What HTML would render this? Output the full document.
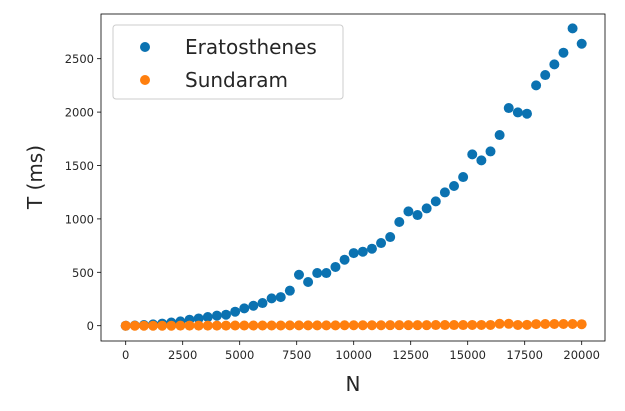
<!DOCTYPE html>
<html><head><meta charset="utf-8"><style>
body{margin:0;background:#fff}
svg{display:block;font-family:"DejaVu Sans","Liberation Sans",sans-serif}
</style></head><body>
<svg id="chart" width="625" height="411" viewBox="0 0 625 411" xmlns="http://www.w3.org/2000/svg">
<rect x="0" y="0" width="625" height="411" fill="#fff"/>
<g id="marks"></g>
<g id="axes"></g>
</svg>
<script>
const nValues = [0,400,800,1200,1600,2000,2400,2800,3200,3600,4000,4400,4800,5200,5600,6000,6400,6800,7200,7600,8000,8400,8800,9200,9600,10000,10400,10800,11200,11600,12000,12400,12800,13200,13600,14000,14400,14800,15200,15600,16000,16400,16800,17200,17600,18000,18400,18800,19200,19600,20000];
const eratosthenes = [0,2,6,12,20,30,40,56,68,81,94,103,131,162,187,212,256,268,328,477,409,493,493,550,618,680,693,721,774,830,971,1070,1036,1098,1164,1248,1308,1392,1604,1548,1632,1785,2038,1997,1985,2250,2347,2447,2556,2784,2640];
const sundaram = [0,0,0,0,0,0,1,1,1,1,1,1,2,2,2,2,2,2,3,3,3,3,3,3,4,4,4,4,4,5,5,5,5,5,6,6,6,6,7,7,7,18,18,7,8,15,16,16,16,16,14];
const xTicks = [0,2500,5000,7500,10000,12500,15000,17500,20000];
const yTicks = [0,500,1000,1500,2000,2500];
const NS="http://www.w3.org/2000/svg";
const L=101,R=605,T=14,B=341;
function xs(v){return 125.7+v*(456/20000);}
function ys(v){return 325.7-v*(267/2500);}
function mk(t,a,p){const e=document.createElementNS(NS,t);for(const k in a)e.setAttribute(k,a[k]);p.appendChild(e);return e;}
const marks=document.getElementById('marks'),axes=document.getElementById('axes');
eratosthenes.forEach((v,i)=>{const c=mk('circle',{cx:xs(nValues[i]),cy:ys(v),r:5,fill:'#0b72b1'},marks);

});
sundaram.forEach((v,i)=>{const c=mk('circle',{cx:xs(nValues[i]),cy:ys(v),r:5,fill:'#ff7f0e'},marks);

});
const frame=mk('rect',{x:L,y:T,width:R-L,height:B-T,fill:'none',stroke:'#000','stroke-width':0.8},axes);


xTicks.forEach(v=>{const x=xs(v);mk('line',{x1:x,x2:x,y1:B,y2:B+4,stroke:'#000','stroke-width':0.8},axes);
const t=mk('text',{x:x,y:B+18,'font-size':11.5,'text-anchor':'middle',fill:'#262626'},axes);t.textContent=v;

});
yTicks.forEach(v=>{const y=ys(v);mk('line',{x1:L-4,x2:L,y1:y,y2:y,stroke:'#000','stroke-width':0.8},axes);
const t=mk('text',{x:L-7,y:y+4.5,'font-size':11.5,'text-anchor':'end',fill:'#262626'},axes);t.textContent=v;

});
const xl=mk('text',{x:353,y:391,'font-size':20,'text-anchor':'middle',fill:'#262626'},axes);xl.textContent='N';


const yl=mk('text',{x:0,y:0,'font-size':20,'text-anchor':'middle',fill:'#262626',transform:'translate(42,177) rotate(-90)'},axes);yl.textContent='T (ms)';


const lg=mk('g',{},axes);


mk('rect',{x:113,y:25,width:230,height:74,rx:3,fill:'#fff','fill-opacity':0.8,stroke:'#ccc','stroke-width':1},lg);
[['Eratosthenes','#0b72b1',47],['Sundaram','#ff7f0e',80]].forEach(([n,c,y])=>{
const e=mk('g',{},lg);


mk('circle',{cx:145,cy:y,r:5,fill:c},e);
const t=mk('text',{x:185,y:y+7,'font-size':20,fill:'#262626'},e);t.textContent=n;});
</script>
</body></html>
